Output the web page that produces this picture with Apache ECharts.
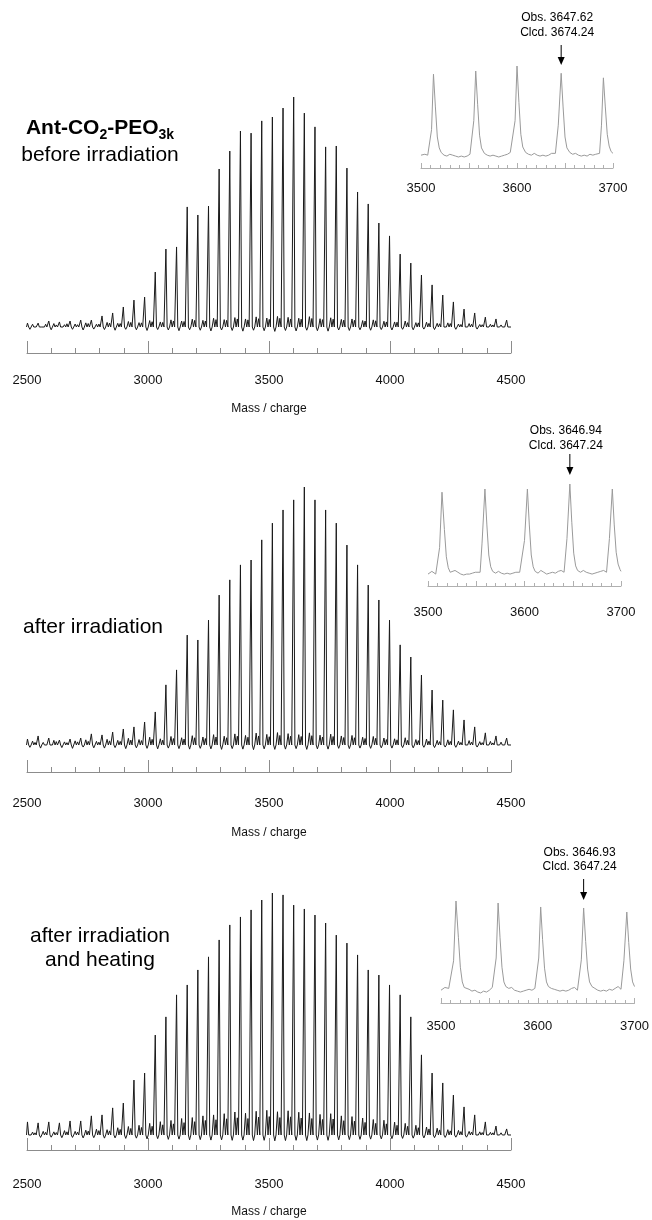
<!DOCTYPE html>
<html><head><meta charset="utf-8">
<script src="https://cdn.jsdelivr.net/npm/echarts@6/dist/echarts.min.js"></script>
<style>html,body{margin:0;padding:0;background:#fff}#c{width:652px;height:1220px}</style>
</head><body><div id="c"></div>
<script>
// ---- DATA ----
const peakMz = [2502,2546,2590,2634,2678,2722,2766,2810,2854,2898,2942,2986,3030,3074,3118,3162,3206,3250,3294,3338,3382,3426,3470,3514,3558,3602,3646,3690,3734,3778,3822,3866,3910,3954,3998,4042,4086,4130,4174,4218,4262,4306,4350,4394,4438,4482];
const mainTicks = [2500,3000,3500,4000,4500];
const insetTicks = [3500,3600,3700];

// before irradiation: main peaks, satellite bumps, second bumps and dips (relative intensity, %)
const beforePeaks = [1.7,1.7,2.6,2.2,2.6,3,3,4.8,6.1,8.7,11.7,13,23.9,33.9,34.8,52.2,48.7,52.6,68.7,76.5,85.2,84.3,89.6,91.3,95.2,100,93,87,78.3,78.7,69.1,58.7,53.5,45.2,39.6,31.7,27.8,22.6,18.3,13.9,10.9,7.8,6.1,4.3,3.5,3];
const beforeSat = [1.2,0.8,1.5,1,1.3,1.8,1.2,2,1.6,2.4,1.9,2.8,2.2,3.1,2.6,3.4,2.9,3.8,3.2,4.1,3.5,4.4,3.9,4.6,4.2,3.8,4.5,3.6,4,3.3,3.5,2.8,3.1,2.5,2.2,2.6,1.9,2.1,1.6,1.8,1.3,1.5,1.1,1.2,0.9];
const beforeSat2 = [0.8,1.2,0.9,1.4,1,1.5,1.3,1.7,1.5,2,1.8,2.3,2,2.6,2.4,2.9,2.6,3.2,2.9,3.5,3.1,3.6,3.3,3.8,3.5,3.4,3.7,3.2,3.4,3,2.9,2.6,2.7,2.2,2.1,1.9,1.8,1.6,1.4,1.5,1.1,1.2,1,0.9,0.8];
const beforeDip = [-1,-0.6,-1.2,-0.8,-1,-1.3,-0.9,-1.1,-1.4,-1,-1.2,-1.5,-1.1,-1.3,-1.6,-1.2,-1.4,-1.7,-1.3,-1.5,-1.8,-1.4,-1.6,-1.9,-1.5,-1.7,-1.4,-1.6,-1.8,-1.3,-1.5,-1.2,-1.4,-1.1,-1.3,-1,-1.2,-0.9,-1.1,-0.8,-1,-0.7,-0.9,-0.6,-0.8];

const afterPeaks = [2.3,3.5,2.7,1.9,2.3,2.7,4.3,3.9,5,6.2,7,8.9,12.8,23.3,29.1,42.6,40.7,48.4,58.1,64,69.8,71.7,79.5,86,91.1,95,100,95,91.1,86,77.5,69.8,62,56.2,48.4,38.8,34.1,27.1,21.3,17.4,13.6,9.7,7,4.7,3.5,2.7];
const afterSat = [1.5,1,1.8,1.2,1.6,2,1.4,2.2,1.8,2.6,2.1,3,2.4,3.3,2.8,3.6,3.1,4,3.4,4.3,3.7,4.6,4.1,4.8,4.4,4,4.7,3.8,4.2,3.5,3.7,3,3.3,2.7,2.4,2.8,2.1,2.3,1.8,2,1.5,1.7,1.3,1.4,1.1];
const afterSat2 = [1,0.7,1.3,0.9,1.2,1.4,1.1,1.6,1.4,1.9,1.7,2.2,1.9,2.5,2.3,2.8,2.5,3.1,2.8,3.4,3,3.5,3.2,3.7,3.4,3.3,3.6,3.1,3.3,2.9,2.8,2.5,2.6,2.1,2,1.8,1.7,1.5,1.3,1.4,1,1.1,0.9,0.8,0.7];
const afterDip = [-0.9,-1.2,-0.7,-1,-1.3,-0.8,-1.1,-1.2,-1,-1.4,-1.1,-1.3,-1.5,-1.2,-1.4,-1.6,-1.3,-1.5,-1.7,-1.4,-1.6,-1.8,-1.5,-1.7,-1.6,-1.4,-1.7,-1.5,-1.6,-1.3,-1.4,-1.2,-1.3,-1.1,-1.2,-1,-1.1,-0.9,-1,-0.8,-0.9,-0.7,-0.8,-0.6,-0.7];

const heatPeaks = [5.4,5,5.4,5,5.8,5.8,7.9,8.3,11.2,13.2,22.7,25.6,41.3,48.8,57.9,62,68.2,73.6,80.6,86.8,90.1,93,97.1,100,99.2,95,93.4,90.9,87.6,82.6,79.3,74.4,68.2,66.1,62,57.9,48.8,33.1,25.6,21.5,16.5,11.6,8.3,5.4,3.7,2.5];
const heatSat = [1.2,1.5,1.3,1.8,1.5,2,2.4,2.2,3,3.5,4,4.8,5.5,6,6.8,7.2,7.9,8.3,8.8,9.5,9,9.8,10.2,9.6,10,9.4,9.1,8.5,8.8,7.9,7.6,7,6.4,6.1,5.3,4.8,4,3.3,2.8,2.2,1.9,1.5,1.3,1.1,0.9];
const heatSat2 = [0.9,1.1,1,1.3,1.2,1.6,1.8,1.7,2.3,2.7,3.1,3.6,4.2,4.6,5.1,5.5,6,6.3,6.7,7.1,6.8,7.4,7.6,7.2,7.5,7,6.8,6.4,6.6,5.9,5.7,5.2,4.8,4.6,4,3.6,3,2.5,2.1,1.7,1.4,1.2,1,0.9,0.7];
const heatDip = [-0.8,-1,-0.9,-1.1,-1,-1.2,-1.1,-1.3,-1.2,-1.4,-1.3,-1.6,-1.5,-1.8,-1.7,-2,-1.9,-2.1,-2,-2.2,-2.1,-2.3,-2.2,-2.4,-2.3,-2.2,-2.3,-2.1,-2.2,-2,-1.9,-1.8,-1.7,-1.6,-1.5,-1.4,-1.3,-1.2,-1.1,-1,-0.9,-0.9,-0.8,-0.7,-0.7];

const insetBefore = [[3500,2],[3502,4],[3504,3],[3507,2],[3509,3],[3511,30],[3513,91],[3515,55],[3517,22],[3519,10],[3521,5],[3524,2],[3527,1],[3530,3],[3533,2],[3536,1],[3539,0],[3542,1],[3545,0],[3548,1],[3551,3],[3553,5],[3555,40],[3557,94.5],[3559,58],[3561,24],[3563,10],[3566,4],[3569,2],[3572,1],[3575,2],[3578,1],[3581,0],[3584,1],[3587,2],[3590,3],[3593,5],[3595,3],[3598,40],[3600,100],[3602,60],[3604,25],[3606,11],[3609,5],[3612,3],[3615,2],[3618,4],[3621,2],[3624,1],[3627,2],[3630,1],[3633,2],[3636,4],[3638,3],[3640,4],[3643,35],[3646,92],[3648,55],[3650,22],[3652,10],[3655,5],[3658,3],[3661,4],[3664,2],[3667,1],[3670,2],[3673,1],[3676,3],[3679,2],[3682,3],[3684,5],[3686,4],[3688,35],[3690,87],[3692,55],[3694,25],[3696,12],[3698,6],[3700,4]];
const insetAfter = [[3500,1],[3502,3],[3504,4],[3506,2],[3508,1],[3510,2],[3512,30],[3514.5,91],[3517,50],[3519,20],[3521,8],[3523,3],[3525,2],[3528,5],[3531,3],[3534,1],[3537,0],[3540,1],[3543,1],[3546,2],[3549,3],[3551,2],[3554,3],[3556,35],[3559,94.5],[3561,55],[3563,22],[3565,9],[3567,4],[3570,2],[3573,4],[3576,2],[3579,1],[3582,2],[3585,1],[3588,2],[3591,3],[3593,4],[3595,3],[3600,38],[3603,94.5],[3605,55],[3607,22],[3609,9],[3611,4],[3614,2],[3617,5],[3620,3],[3623,1],[3626,2],[3629,3],[3632,2],[3635,4],[3638,5],[3641,3],[3644,40],[3647,100],[3649,58],[3651,24],[3653,10],[3655,5],[3658,3],[3661,5],[3664,3],[3667,2],[3670,1],[3673,2],[3676,3],[3679,4],[3682,5],[3685,3],[3688,40],[3691,94.5],[3693,55],[3695,25],[3697,12],[3699,6],[3700,4]];
const insetHeat = [[3500,3],[3502,5],[3504,6],[3506,4],[3508,5],[3510,4],[3513,35],[3515.5,100],[3518,60],[3520,28],[3522,12],[3524,6],[3526,5],[3529,4],[3532,2],[3535,3],[3538,1],[3541,0],[3544,2],[3547,1],[3550,3],[3553,6],[3555,5],[3557,38],[3559,97.8],[3561,60],[3563,28],[3565,12],[3567,7],[3570,5],[3573,6],[3576,3],[3579,2],[3582,1],[3585,2],[3588,3],[3591,4],[3594,3],[3597,5],[3599,6],[3601,38],[3603,93.5],[3605,58],[3607,27],[3609,12],[3611,7],[3614,5],[3617,4],[3620,3],[3623,2],[3626,3],[3629,2],[3632,3],[3635,5],[3638,6],[3641,3],[3643,5],[3645,36],[3647.4,92.4],[3649.5,56],[3651.5,26],[3653.5,12],[3656,7],[3659,5],[3662,3],[3665,2],[3668,3],[3671,2],[3674,4],[3677,3],[3680,5],[3683,7],[3686,4],[3689,35],[3692,88],[3694,55],[3696,26],[3698,12],[3700,7]];

const panelLabels = ['before irradiation','after irradiation','after irradiation\nand heating'];
const annotations = [['Obs. 3647.62','Clcd. 3674.24'],['Obs. 3646.94','Clcd. 3647.24'],['Obs. 3646.93','Clcd. 3647.24']];
const annotatedMz = [3646, 3647, 3647.4];

// ---- BUILD ----
const FONT = 'Liberation Sans, Arial, Helvetica, sans-serif';
function spectrum(peaks, sats, sats2, dips) {
  const d = [];
  peakMz.forEach((m, k) => {
    d.push([m - 4, 0], [m, peaks[k]], [m + 5, 0]);
    if (k < sats.length) {
      d.push([m + 10, dips[k]], [m + 15, 0], [m + 21, sats[k]], [m + 26, 0], [m + 31, sats2[k]], [m + 36, 0]);
    }
  });
  d.push([mainTicks[mainTicks.length - 1], 0]);
  return d;
}

const mainGrids = [
  {left: 27, right: 141, top: 97, height: 256, ymin: -11.3, margin: 21, nameGap: 50},
  {left: 27, right: 141, top: 487, height: 285, ymin: -10.47, margin: 25, nameGap: 55},
  {left: 27, right: 141, top: 893, height: 257, ymin: -6.2, margin: 28, nameGap: 56}
];
const insetGrids = [
  {left: 421, right: 39, top: 66, height: 102, ymin: -12.1, margin: 14},
  {left: 428, right: 31, top: 484, height: 102, ymin: -12.1, margin: 20},
  {left: 441, right: 17, top: 901, height: 102, ymin: -10.9, margin: 17}
];

const grids = [], xAxes = [], yAxes = [], series = [];
const mainSeries = [
  spectrum(beforePeaks, beforeSat, beforeSat2, beforeDip),
  spectrum(afterPeaks, afterSat, afterSat2, afterDip),
  spectrum(heatPeaks, heatSat, heatSat2, heatDip)
];
const insetSeries = [insetBefore, insetAfter, insetHeat];

mainGrids.forEach((g, i) => {
  grids.push({left: g.left, right: g.right, top: g.top, height: g.height, containLabel: false});
  xAxes.push({
    gridIndex: i, type: 'value', min: mainTicks[0], max: mainTicks[mainTicks.length - 1], interval: mainTicks[1] - mainTicks[0],
    axisLine: {show: true, onZero: false, lineStyle: {color: '#8c8c8c', width: 1}},
    axisTick: {show: true, inside: true, length: 12, lineStyle: {color: '#8c8c8c'}},
    minorTick: {show: true, splitNumber: 5, length: 5, lineStyle: {color: '#8c8c8c'}},
    splitLine: {show: false},
    axisLabel: {margin: g.margin, color: '#111', fontSize: 13, fontFamily: FONT, formatter: v => String(v)},
    name: 'Mass / charge', nameLocation: 'middle', nameGap: g.nameGap,
    nameTextStyle: {color: '#111', fontSize: 12, fontFamily: FONT}
  });
  yAxes.push({gridIndex: i, type: 'value', min: g.ymin, max: 100, show: false});
  series.push({type: 'line', xAxisIndex: i, yAxisIndex: i, data: mainSeries[i], showSymbol: false, symbol: 'none',
    lineStyle: {color: '#1a1a1a', width: 1}, silent: true});
});
insetGrids.forEach((g, j) => {
  const i = j + 3;
  grids.push({left: g.left, right: g.right, top: g.top, height: g.height});
  xAxes.push({
    gridIndex: i, type: 'value', min: insetTicks[0], max: insetTicks[insetTicks.length - 1], interval: 50,
    axisLine: {show: true, onZero: false, lineStyle: {color: '#b0b0b0', width: 1}},
    axisTick: {show: true, inside: true, length: 5, lineStyle: {color: '#b0b0b0'}},
    minorTick: {show: true, splitNumber: 5, length: 3, lineStyle: {color: '#b0b0b0'}},
    splitLine: {show: false},
    axisLabel: {margin: g.margin, color: '#111', fontSize: 13, fontFamily: FONT,
      formatter: v => (insetTicks.indexOf(v) >= 0 ? String(v) : '')}
  });
  yAxes.push({gridIndex: i, type: 'value', min: g.ymin, max: 100, show: false});
  series.push({type: 'line', xAxisIndex: i, yAxisIndex: i, data: insetSeries[j], showSymbol: false, symbol: 'none',
    lineStyle: {color: '#9a9a9a', width: 1}, silent: true});
});

const chart = echarts.init(document.getElementById('c'), null, {renderer: 'canvas'});
chart.setOption({animation: false, backgroundColor: '#fff', grid: grids, xAxis: xAxes, yAxis: yAxes, series: series});

// ---- TEXT & ARROWS ----
const graphic = [];
graphic.push({type: 'text', x: 100, y: 128, style: {
  text: '{b|Ant-CO}{s|2}{b|-PEO}{s|3k}', textAlign: 'center', textVerticalAlign: 'middle',
  rich: {b: {fontSize: 21, fontWeight: 'bold', fontFamily: FONT, fill: '#000', lineHeight: 28},
         s: {fontSize: 14, fontWeight: 'bold', fontFamily: FONT, fill: '#000', verticalAlign: 'bottom'}}
}});
const labelPos = [[100, 155], [93, 627], [100, 948]];
panelLabels.forEach((t, i) => {
  graphic.push({type: 'text', x: labelPos[i][0], y: labelPos[i][1], style: {
    text: t, textAlign: 'center', textVerticalAlign: 'middle', fontSize: 21, lineHeight: 24, fontFamily: FONT, fill: '#000'}});
});
const annoY = [[18, 33, 45, 65], [431, 446, 454, 475], [853, 867, 879, 900]];
annotations.forEach((a, i) => {
  const px = chart.convertToPixel({xAxisIndex: i + 3}, annotatedMz[i]);
  const ay = annoY[i];
  graphic.push({type: 'text', x: px - 4, y: ay[0], style: {text: a[0], textAlign: 'center', textVerticalAlign: 'middle', fontSize: 12, fontFamily: FONT, fill: '#000'}});
  graphic.push({type: 'text', x: px - 4, y: ay[1], style: {text: a[1], textAlign: 'center', textVerticalAlign: 'middle', fontSize: 12, fontFamily: FONT, fill: '#000'}});
  graphic.push({type: 'line', shape: {x1: px, y1: ay[2], x2: px, y2: ay[3] - 6}, style: {stroke: '#000', lineWidth: 1}});
  graphic.push({type: 'polygon', shape: {points: [[px - 3.5, ay[3] - 8], [px + 3.5, ay[3] - 8], [px, ay[3]]]}, style: {fill: '#000'}});
});
chart.setOption({graphic: graphic});
</script>
</body></html>
